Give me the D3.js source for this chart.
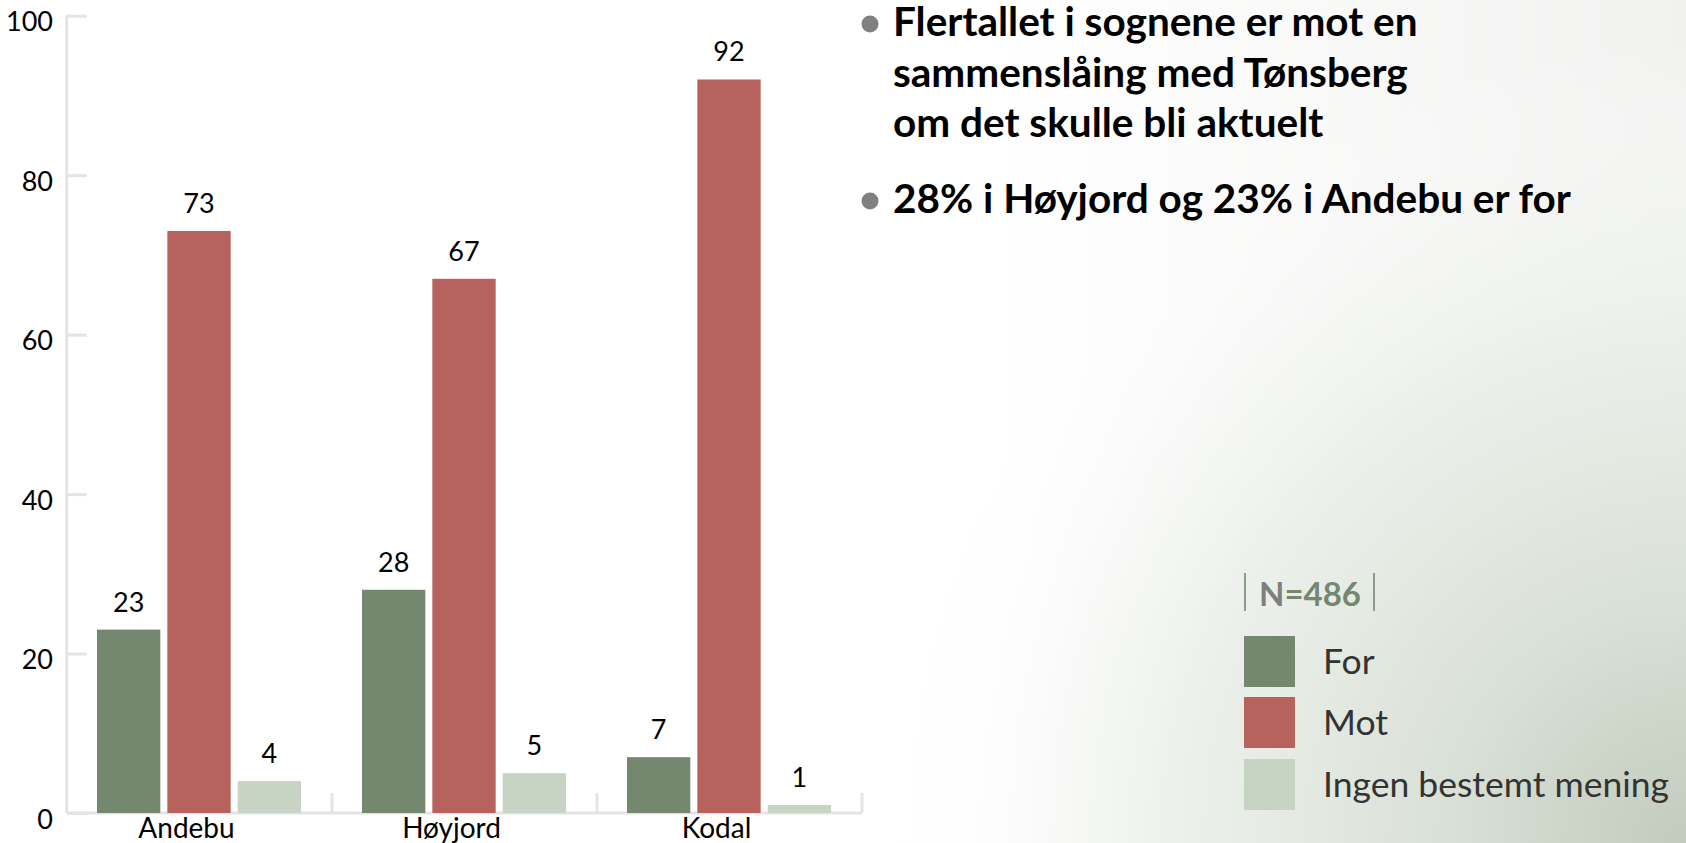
<!DOCTYPE html>
<html><head><meta charset="utf-8">
<script src="https://cdn.jsdelivr.net/npm/d3@7"></script>
<style>html,body{margin:0;padding:0;background:#fff;}svg{display:block;}</style>
</head><body>
<svg id="c" width="1686" height="843"></svg>
<script>
const categories = ["Andebu", "Høyjord", "Kodal"];
const seriesNames = ["For", "Mot", "Ingen bestemt mening"];
const forValues = [23, 28, 7];
const motValues = [73, 67, 92];
const ingenValues = [4, 5, 1];
const yTicks = [0, 20, 40, 60, 80, 100];
const colors = ["#74876f", "#b8625e", "#c7d4c3"];
const bullets = [["Flertallet i sognene er mot en", "sammenslåing med Tønsberg", "om det skulle bli aktuelt"], ["28% i Høyjord og 23% i Andebu er for"]];
const sampleLabel = ["N", "=486"];

const series = [forValues, motValues, ingenValues];
const svg = d3.select("#c");
const font = "Lato, 'Source Sans Pro', 'Noto Sans', sans-serif";

// background
const defs = svg.append("defs");
const lg = defs.append("linearGradient").attr("id","lg").attr("gradientUnits","userSpaceOnUse")
  .attr("x1",1000).attr("y1",0).attr("x2",1686).attr("y2",0);
lg.append("stop").attr("offset",0).attr("stop-color","#ffffff");
lg.append("stop").attr("offset",1).attr("stop-color","#f1f2f0");
const rg = defs.append("radialGradient").attr("id","rg").attr("gradientUnits","userSpaceOnUse")
  .attr("cx",1686).attr("cy",843).attr("r",950);
rg.append("stop").attr("offset",0).attr("stop-color","#c2cbbe").attr("stop-opacity",1);
rg.append("stop").attr("offset",0.25).attr("stop-color","#d9e0d6").attr("stop-opacity",1);
rg.append("stop").attr("offset",0.55).attr("stop-color","#ebefea").attr("stop-opacity",0.85);
rg.append("stop").attr("offset",0.85).attr("stop-color","#ffffff").attr("stop-opacity",0);
svg.append("rect").attr("width",1686).attr("height",843).attr("fill","url(#lg)");
svg.append("rect").attr("width",1686).attr("height",843).attr("fill","url(#rg)");

// scales
const x0 = d3.scaleBand().domain(categories).range([67, 862]).paddingInner(0).paddingOuter(0);
const x1 = d3.scaleBand().domain(seriesNames).range([30, x0.bandwidth()-31]).paddingInner(0.1).paddingOuter(0);
const y = d3.scaleLinear().domain([0, 100]).range([813, 15.7]);

// y axis
const yAxis = svg.append("g").attr("transform","translate(66.7,0)")
  .call(d3.axisRight(y).tickValues(yTicks).tickSize(20).tickFormat(""));
yAxis.selectAll("path,line").attr("stroke","#e4e4e4").attr("stroke-width",3);
yAxis.select(".domain").attr("d", `M0,${y(100)}V${y(0)}`);
svg.append("g").selectAll("text").data(yTicks).join("text")
  .attr("x",53).attr("y",d=>y(d)+15.5).attr("text-anchor","end")
  .attr("font-family",font).attr("font-size",27).attr("fill","#000").text(d=>d);

// x axis
const xAxis = svg.append("g").attr("transform","translate(0,813)")
  .call(d3.axisTop(x0).tickSize(0).tickFormat(""));
xAxis.select(".domain").attr("d","M67,0H862").attr("stroke","#e4e4e4").attr("stroke-width",3);
xAxis.selectAll(".tick").remove();
const seps = categories.map(c => x0(c) + x0.bandwidth());
svg.append("g").selectAll("line").data(seps).join("line")
  .attr("x1",d=>d).attr("x2",d=>d).attr("y1",793).attr("y2",813)
  .attr("stroke","#e4e4e4").attr("stroke-width",3);
svg.append("g").selectAll("text").data(categories).join("text")
  .attr("x",d=>x0(d)+x0.bandwidth()/2-13).attr("y",838).attr("text-anchor","middle")
  .attr("font-family",font).attr("font-size",28).attr("fill","#000").text(d=>d);

// bars
const groups = svg.append("g").selectAll("g").data(categories).join("g")
  .attr("transform",d=>`translate(${x0(d)},0)`);
groups.selectAll("rect").data((c,i)=>series.map((s,k)=>({name:seriesNames[k],v:s[i],k})))
  .join("rect").attr("x",d=>x1(d.name)).attr("width",x1.bandwidth())
  .attr("y",d=>y(d.v)).attr("height",d=>y(0)-y(d.v)).attr("fill",d=>colors[d.k]);
groups.selectAll("text").data((c,i)=>series.map((s,k)=>({name:seriesNames[k],v:s[i],k})))
  .join("text").attr("x",d=>x1(d.name)+x1.bandwidth()/2).attr("y",d=>y(d.v)-18)
  .attr("text-anchor","middle").attr("font-family",font).attr("font-size",27).attr("fill","#000").text(d=>d.v);

// bullets
const bStarts = [36, 213];
bullets.forEach((lines,bi)=>{
  svg.append("circle").attr("cx",870).attr("cy",bStarts[bi]-12).attr("r",8.5).attr("fill","#808080");
  const t = svg.append("text").attr("font-family",font).attr("font-weight","bold").attr("font-size",40.5).attr("fill","#000");
  lines.forEach((l,li)=>t.append("tspan").attr("x",893).attr("y",bStarts[bi]+li*50.5).text(l));
});

// legend
const legY = [636, 697, 759];
const leg = svg.append("g").selectAll("g").data(seriesNames).join("g")
  .attr("transform",(d,i)=>`translate(1244,${legY[i]})`);
leg.append("rect").attr("width",51).attr("height",51).attr("fill",(d,i)=>colors[i]);
leg.append("text").attr("x",79).attr("y",38).attr("font-family",font).attr("font-size",35.5).attr("fill","#333").text(d=>d);

// N label
svg.append("line").attr("x1",1245).attr("x2",1245).attr("y1",573).attr("y2",611).attr("stroke","#8d9b8a").attr("stroke-width",2);
svg.append("line").attr("x1",1374).attr("x2",1374).attr("y1",573).attr("y2",611).attr("stroke","#8d9b8a").attr("stroke-width",2);
const nt = svg.append("text").attr("x",1259).attr("y",606).attr("font-family",font).attr("font-weight","bold").attr("font-size",33);
nt.append("tspan").attr("fill","#7f7f7f").text(sampleLabel[0]);
nt.append("tspan").attr("fill","#74876f").text(sampleLabel[1]);
</script>
</body></html>
